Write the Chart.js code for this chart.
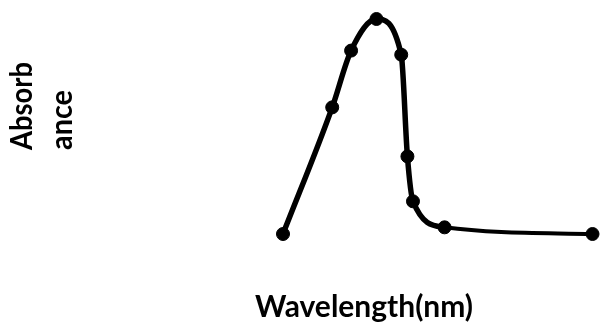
<!DOCTYPE html>
<html>
<head>
<meta charset="utf-8">
<script src="https://cdn.jsdelivr.net/npm/chart.js@4"></script>
<style>
  html, body { margin: 0; padding: 0; background: #fff; }
  #wrap { position: relative; width: 600px; height: 324px; }
</style>
</head>
<body>
<div id="wrap"><canvas id="spectrum"></canvas></div>
<script>
// wavelength (arbitrary units, no ticks shown) and absorbance
const wavelength = [0, 15.9, 22.0, 30.2, 38.2, 40.2, 42.0, 52.2, 100];
const absorbance = [0, 0.589, 0.853, 1.0, 0.834, 0.361, 0.152, 0.031, 0];

const xTitle = 'Wavelength(nm)';
const yTitle = ['Absorb', 'ance'];

const titleFont = 'bold 31px Lato';

// axis titles are placed like the original (not centred on the plot)
const titles = {
  id: 'titles',
  afterDraw(chart) {
    const ctx = chart.ctx;
    ctx.save();
    ctx.fillStyle = '#000';
    ctx.font = titleFont;
    ctx.textBaseline = 'alphabetic';
    ctx.textAlign = 'left';

    // x title, fitted to the width of the original
    const w = ctx.measureText(xTitle).width;
    ctx.save();
    ctx.translate(255, 317);
    ctx.scale(218 / w, 1);
    ctx.fillText(xTitle, 0, 0);
    ctx.restore();

    // y title, two rotated lines
    const baselines = [32, 72];
    yTitle.forEach((line, i) => {
      const lw = ctx.measureText(line).width;
      const target = i === 0 ? 88 : 60;
      ctx.save();
      ctx.translate(baselines[i], 150);
      ctx.rotate(-Math.PI / 2);
      ctx.scale(target / lw, 1);
      ctx.fillText(line, 0, 0);
      ctx.restore();
    });
    ctx.restore();
  }
};

new Chart(document.getElementById('spectrum'), {
  type: 'line',
  data: {
    datasets: [{
      data: wavelength.map((x, i) => ({ x: x, y: absorbance[i] })),
      borderColor: '#000',
      backgroundColor: '#000',
      pointBackgroundColor: '#000',
      pointBorderColor: '#000',
      borderWidth: 5.5,
      pointRadius: 6.5,
      pointBorderWidth: 1,
      cubicInterpolationMode: 'monotone',
      clip: false,
      segment: {
        borderWidth: (ctx) => (ctx.p0DataIndex === wavelength.length - 2 ? 4 : 5.5)
      }
    }]
  },
  options: {
    responsive: true,
    maintainAspectRatio: false,
    animation: false,
    layout: {
      padding: { left: 283, right: 5, top: 19, bottom: 90 }
    },
    plugins: {
      legend: { display: false },
      tooltip: { enabled: false }
    },
    scales: {
      x: {
        type: 'linear',
        min: 0,
        max: 100,
        display: false
      },
      y: {
        min: 0,
        max: 1,
        display: false
      }
    }
  },
  plugins: [titles]
});
</script>
</body>
</html>
